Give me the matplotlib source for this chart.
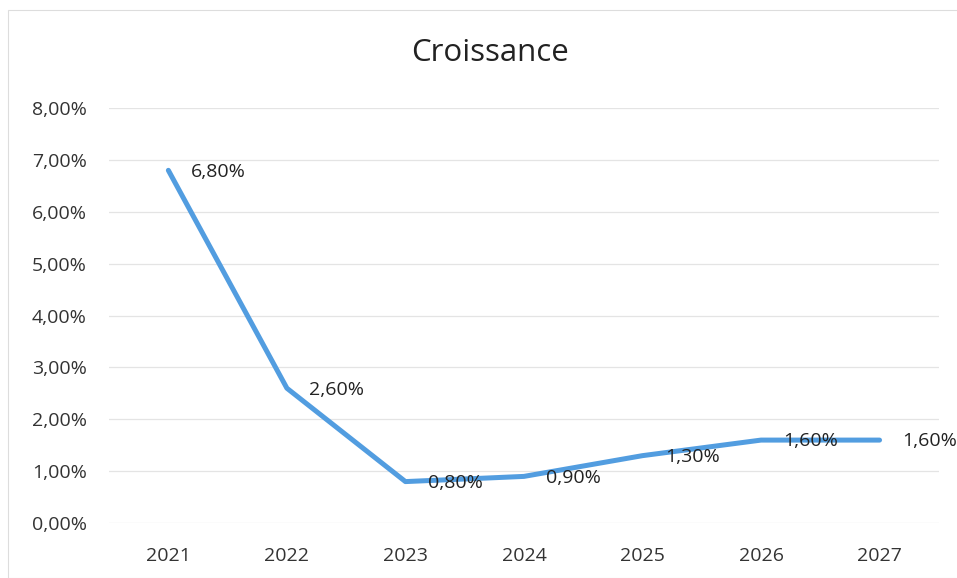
import matplotlib.pyplot as plt
from matplotlib.patches import Rectangle

years = ["2021", "2022", "2023", "2024", "2025", "2026", "2027"]
growth = [6.80, 2.60, 0.80, 0.90, 1.30, 1.60, 1.60]
y_ticks = [0, 1, 2, 3, 4, 5, 6, 7, 8]

plt.rcParams['font.family'] = ['Open Sans', 'DejaVu Sans']


def fr_pct(v):
    return "{:.2f}%".format(v).replace(".", ",")


fig = plt.figure(figsize=(9.57, 5.78), dpi=100)
ax = fig.add_axes([0.114, 0.095, 0.867, 0.718])

x = list(range(len(years)))
ax.plot(x, growth, color="#529de0", linewidth=3.6, solid_capstyle="round",
        solid_joinstyle="round", zorder=3)

for xi, v in zip(x, growth):
    ax.annotate(fr_pct(v), (xi, v), xytext=(16, -1), textcoords="offset points",
                ha="left", va="center", fontsize=14, color="#222222", zorder=4)

ax.set_xlim(-0.5, len(years) - 0.5)
ax.set_ylim(0, 8)
ax.set_xticks(x)
ax.set_xticklabels(years)
ax.set_yticks(y_ticks)
ax.set_yticklabels([fr_pct(v) for v in y_ticks])
ax.tick_params(length=0, labelsize=14, colors="#333333")
ax.tick_params(axis="x", pad=17)
ax.tick_params(axis="y", pad=16)
ax.grid(axis="y", color="#e4e4e4", linewidth=0.9)
ax.set_axisbelow(True)
for s in ax.spines.values():
    s.set_visible(False)

fig.text(0.512, 0.908, "Croissance", ha="center", va="center", fontsize=22.5,
         color="#222222")

# chart frame
fig.patches.append(Rectangle((0.008, 0.0), 1.2, 0.983, transform=fig.transFigure,
                             fill=False, edgecolor="#dddddd", linewidth=0.8))

plt.savefig("out.png", dpi=100)
